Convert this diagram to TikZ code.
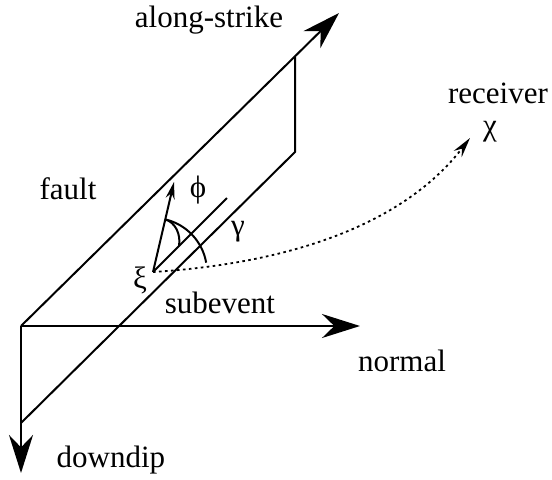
\documentclass[tikz,border=0pt]{standalone}
\usepackage{fontspec}
\setmainfont{LiberationSerif}[Extension=.ttf, UprightFont=*-Regular]
\usepackage{tikz}
\usetikzlibrary{positioning, arrows.meta, calc}

\begin{document}
\begin{tikzpicture}[
    x=0.5pt, y=0.5pt,
    every node/.style={font=\rmfamily\fontsize{15.5}{18}\selectfont, inner sep=0pt},
    edge/.style={line width=1pt},
    bigarr/.style={edge, -{Stealth[length=19pt, width=12pt]}},
    smallarr/.style={edge, -{Stealth[length=8.5pt, width=4.5pt]}},
    ray/.style={line width=0.9pt, dash pattern=on 1.3pt off 1.7pt,
                -{Stealth[length=10pt, width=5pt]}},
    word/.style={anchor=base}
  ]
    \useasboundingbox (0,0) rectangle (552,479);

    \coordinate (o) at (21,153);
    \coordinate (strike) at (339,466);
    \coordinate (c1) at (295,423);
    \coordinate (c2) at (295,327);
    \coordinate (c3) at (21,56);
    \coordinate (dip) at (21,6);
    \coordinate (norm) at (360,153);
    \coordinate (xi) at (153,207);
    \coordinate (slipend) at (227,281);
    \coordinate (phitip) at (174,297);
    \coordinate (recv) at (470,341);
    \coordinate (arcstart) at ($(xi)+(76.9:54)$);
    \coordinate (phiend) at (179,233);

    \draw[bigarr] (o) -- (strike);
    \draw[edge] (c1) -- (c2) -- (c3);
    \draw[bigarr] (o) -- (dip);
    \draw[bigarr] (o) -- (norm);

    \draw[edge] (xi) -- (slipend);
    \draw[smallarr] (xi) -- (phitip);
    \draw[edge] (arcstart) .. controls +(10,-3) and +(2,12) .. (phiend);
    \draw[edge] (arcstart) arc[start angle=76.9, end angle=10, radius=54];
    \draw[ray] (xi) .. controls (280,215) and (400,250) .. (recv);

    \node[word] (lstrike) at (209,452) {along-strike};
    \node[word] (lrecv) at (498,376) {receiver};
    \node (lchi) at (490,347) {χ};
    \node[word] (lfault) at (68,280) {fault};
    \node (lphi) at (198,289) {ϕ};
    \node (lgamma) at (238,247) {γ};
    \node (lxi) at (140,199) {ξ};
    \node[word] (lsub) at (220,166) {subevent};
    \node[word] (lnorm) at (402,108) {normal};
    \node[word] (ldip) at (111,12) {downdip};
\end{tikzpicture}
\end{document}
